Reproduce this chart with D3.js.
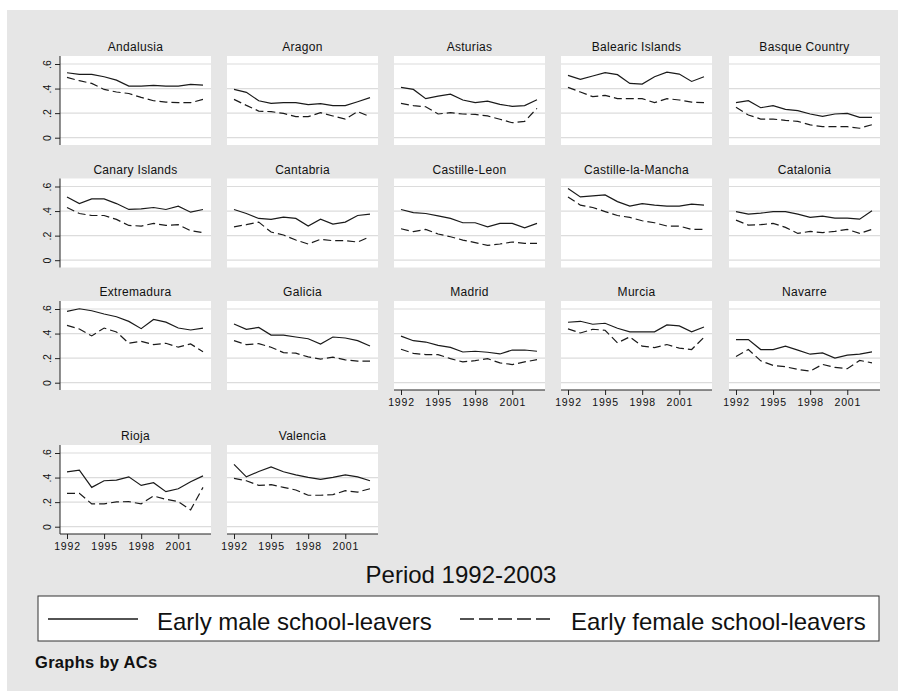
<!DOCTYPE html>
<html>
<head>
<meta charset="utf-8">
<script src="https://cdn.jsdelivr.net/npm/d3@7"></script>
<style>
  body { margin: 0; background: #fff; }
  svg { display: block; font-family: "Liberation Sans", Arial, Helvetica, sans-serif; }
</style>
</head>
<body>
<svg width="898" height="691"></svg>
<script>
// data (share of early school-leavers by AC)
var regions = ["Andalusia", "Aragon", "Asturias", "Balearic Islands", "Basque Country",
  "Canary Islands", "Cantabria", "Castille-Leon", "Castille-la-Mancha", "Catalonia",
  "Extremadura", "Galicia", "Madrid", "Murcia", "Navarre",
  "Rioja", "Valencia"];

var years = [1992, 1993, 1994, 1995, 1996, 1997, 1998, 1999, 2000, 2001, 2002, 2003];
var yearTicks = [1992, 1995, 1998, 2001];
var yTicks = [0, 0.2, 0.4, 0.6];
var yTickLabels = ["0", ".2", ".4", ".6"];

var male = [
  [0.529, 0.515, 0.515, 0.496, 0.469, 0.420, 0.420, 0.426, 0.420, 0.420, 0.434, 0.428],
  [0.393, 0.369, 0.301, 0.280, 0.285, 0.285, 0.269, 0.277, 0.261, 0.261, 0.293, 0.326],
  [0.410, 0.393, 0.318, 0.339, 0.355, 0.307, 0.285, 0.298, 0.271, 0.255, 0.261, 0.309],
  [0.507, 0.475, 0.502, 0.529, 0.513, 0.442, 0.437, 0.496, 0.534, 0.518, 0.458, 0.496],
  [0.285, 0.301, 0.244, 0.261, 0.231, 0.220, 0.193, 0.174, 0.193, 0.198, 0.166, 0.166],
  [0.515, 0.461, 0.499, 0.499, 0.461, 0.413, 0.418, 0.429, 0.413, 0.440, 0.391, 0.413],
  [0.413, 0.380, 0.340, 0.332, 0.350, 0.340, 0.278, 0.334, 0.294, 0.310, 0.364, 0.375],
  [0.413, 0.388, 0.380, 0.361, 0.340, 0.305, 0.305, 0.272, 0.300, 0.300, 0.264, 0.300],
  [0.583, 0.515, 0.523, 0.531, 0.477, 0.440, 0.461, 0.448, 0.440, 0.440, 0.456, 0.448],
  [0.396, 0.375, 0.383, 0.396, 0.396, 0.375, 0.348, 0.359, 0.343, 0.343, 0.334, 0.402],
  [0.580, 0.602, 0.586, 0.559, 0.537, 0.499, 0.440, 0.515, 0.493, 0.445, 0.429, 0.445],
  [0.478, 0.434, 0.450, 0.388, 0.388, 0.372, 0.358, 0.315, 0.372, 0.364, 0.342, 0.299],
  [0.379, 0.342, 0.331, 0.304, 0.288, 0.250, 0.256, 0.248, 0.234, 0.266, 0.266, 0.256],
  [0.492, 0.500, 0.476, 0.484, 0.443, 0.414, 0.414, 0.414, 0.470, 0.462, 0.414, 0.454],
  [0.351, 0.351, 0.270, 0.270, 0.297, 0.265, 0.232, 0.243, 0.200, 0.224, 0.232, 0.251],
  [0.447, 0.460, 0.320, 0.374, 0.379, 0.406, 0.336, 0.358, 0.285, 0.309, 0.366, 0.414],
  [0.508, 0.406, 0.449, 0.487, 0.447, 0.422, 0.401, 0.385, 0.401, 0.422, 0.406, 0.374]
];

var female = [
  [0.491, 0.464, 0.442, 0.393, 0.372, 0.360, 0.328, 0.301, 0.290, 0.285, 0.285, 0.312],
  [0.312, 0.263, 0.217, 0.212, 0.198, 0.171, 0.171, 0.204, 0.177, 0.152, 0.212, 0.171],
  [0.280, 0.261, 0.252, 0.193, 0.204, 0.193, 0.190, 0.177, 0.150, 0.122, 0.133, 0.239],
  [0.410, 0.372, 0.334, 0.345, 0.318, 0.318, 0.318, 0.285, 0.318, 0.307, 0.290, 0.285],
  [0.247, 0.185, 0.152, 0.152, 0.141, 0.133, 0.104, 0.090, 0.090, 0.090, 0.077, 0.106],
  [0.429, 0.380, 0.364, 0.364, 0.332, 0.283, 0.278, 0.300, 0.283, 0.289, 0.240, 0.224],
  [0.272, 0.289, 0.310, 0.229, 0.205, 0.164, 0.132, 0.170, 0.159, 0.159, 0.148, 0.191],
  [0.256, 0.232, 0.251, 0.213, 0.191, 0.164, 0.143, 0.121, 0.132, 0.148, 0.137, 0.137],
  [0.515, 0.448, 0.429, 0.396, 0.364, 0.348, 0.321, 0.305, 0.278, 0.278, 0.251, 0.251],
  [0.326, 0.286, 0.289, 0.300, 0.267, 0.218, 0.235, 0.224, 0.235, 0.251, 0.218, 0.251],
  [0.467, 0.437, 0.381, 0.445, 0.413, 0.321, 0.337, 0.310, 0.321, 0.289, 0.316, 0.251],
  [0.342, 0.310, 0.318, 0.289, 0.245, 0.240, 0.210, 0.192, 0.208, 0.186, 0.175, 0.175],
  [0.272, 0.239, 0.229, 0.229, 0.196, 0.169, 0.180, 0.196, 0.161, 0.148, 0.169, 0.188],
  [0.438, 0.405, 0.435, 0.427, 0.324, 0.373, 0.297, 0.286, 0.311, 0.281, 0.270, 0.370],
  [0.214, 0.270, 0.178, 0.141, 0.130, 0.108, 0.095, 0.149, 0.124, 0.114, 0.181, 0.162],
  [0.272, 0.272, 0.186, 0.186, 0.202, 0.204, 0.186, 0.250, 0.223, 0.204, 0.137, 0.320],
  [0.393, 0.374, 0.336, 0.342, 0.320, 0.299, 0.256, 0.256, 0.261, 0.293, 0.282, 0.309]
];

var svg = d3.select("svg");

// grey graph region
svg.append("rect")
    .attr("x", 7).attr("y", 10)
    .attr("width", 891).attr("height", 681)
    .attr("fill", "#e6e6e6");

var colLeft = [60, 227, 394, 561, 729],
    rowTop = [56, 178.5, 301, 445],
    boxW = 151,
    boxH = 89,
    ncol = 5;

var line = d3.line();

regions.forEach(function(name, i) {
    var col = i % ncol,
        row = Math.floor(i / ncol),
        left = colLeft[col],
        top = rowTop[row];

    var x = d3.scaleLinear().domain([1992, 2003]).range([left + 7, left + 143]);
    var y = d3.scaleLinear().domain([0, 0.6]).range([top + 81.7, top + 8]);

    var g = svg.append("g").attr("class", "panel");

    g.append("rect")
        .attr("x", left).attr("y", top)
        .attr("width", boxW).attr("height", boxH)
        .attr("fill", "#fff");

    // horizontal grid at each tick
    g.selectAll("line.grid")
        .data(yTicks)
        .enter().append("line")
        .attr("class", "grid")
        .attr("x1", left).attr("x2", left + boxW)
        .attr("y1", function(d) { return y(d); })
        .attr("y2", function(d) { return y(d); })
        .style("stroke", "#dcdcdc")
        .style("stroke-width", 1.2);

    g.append("text")
        .attr("x", left + boxW / 2)
        .attr("y", top - 5)
        .attr("text-anchor", "middle")
        .style("font-size", "12px")
        .style("letter-spacing", "0.3px")
        .style("fill", "#111")
        .text(name);

    // y axis only in the first column
    if (col === 0) {
        var ya = g.append("g")
            .attr("transform", "translate(" + left + ",0)")
            .call(d3.axisLeft(y).tickValues(yTicks).tickSize(5)
                .tickFormat(function(d, k) { return yTickLabels[k]; }));
        ya.select(".domain").attr("d", "M0," + top + "V" + (top + boxH));
        ya.selectAll(".tick text")
            .attr("x", 0).attr("y", 0).attr("dy", 0)
            .attr("transform", "translate(-9,0) rotate(-90)")
            .style("text-anchor", "middle")
            .style("font-size", "10.5px");
    }

    // x axis where no panel sits below
    if (i + ncol >= regions.length) {
        var xa = g.append("g")
            .attr("transform", "translate(0," + (top + boxH) + ")")
            .call(d3.axisBottom(x).tickValues(yearTicks).tickSize(5).tickPadding(4)
                .tickFormat(d3.format("d")));
        xa.select(".domain").attr("d", "M" + left + ",0H" + (left + boxW));
        xa.selectAll("text")
            .style("font-size", "10.5px")
            .style("letter-spacing", "0.8px");
    }

    g.selectAll(".tick line, .domain")
        .style("stroke", "#222")
        .style("stroke-width", 1);
    g.selectAll(".tick text").style("fill", "#111");

    g.append("path")
        .attr("d", line(years.map(function(yr, k) { return [x(yr), y(male[i][k])]; })))
        .style("fill", "none")
        .style("stroke", "#1a1a1a")
        .style("stroke-width", 1.2);

    g.append("path")
        .attr("d", line(years.map(function(yr, k) { return [x(yr), y(female[i][k])]; })))
        .style("fill", "none")
        .style("stroke", "#1a1a1a")
        .style("stroke-width", 1.2)
        .style("stroke-dasharray", "8,4");
});

// x title
svg.append("text")
    .attr("x", 461).attr("y", 583)
    .attr("text-anchor", "middle")
    .style("font-size", "24px")
    .style("fill", "#111")
    .text("Period 1992-2003");

// legend
var legend = svg.append("g");
legend.append("rect")
    .attr("x", 38).attr("y", 596)
    .attr("width", 841).attr("height", 45)
    .attr("fill", "#fff")
    .style("stroke", "#333")
    .style("stroke-width", 1);

legend.append("line")
    .attr("x1", 48).attr("x2", 138).attr("y1", 619).attr("y2", 619)
    .style("stroke", "#1a1a1a").style("stroke-width", 1.5);
legend.append("text")
    .attr("x", 157).attr("y", 630)
    .style("font-size", "24px").style("fill", "#111")
    .text("Early male school-leavers");

legend.append("line")
    .attr("x1", 460).attr("x2", 552).attr("y1", 619).attr("y2", 619)
    .style("stroke", "#1a1a1a").style("stroke-width", 1.5)
    .style("stroke-dasharray", "14,5");
legend.append("text")
    .attr("x", 571).attr("y", 630)
    .style("font-size", "24px").style("fill", "#111")
    .text("Early female school-leavers");

svg.append("text")
    .attr("x", 35).attr("y", 668)
    .style("font-size", "16.5px")
    .style("font-weight", "bold")
    .style("letter-spacing", "0.3px")
    .style("fill", "#111")
    .text("Graphs by ACs");
</script>
</body>
</html>
